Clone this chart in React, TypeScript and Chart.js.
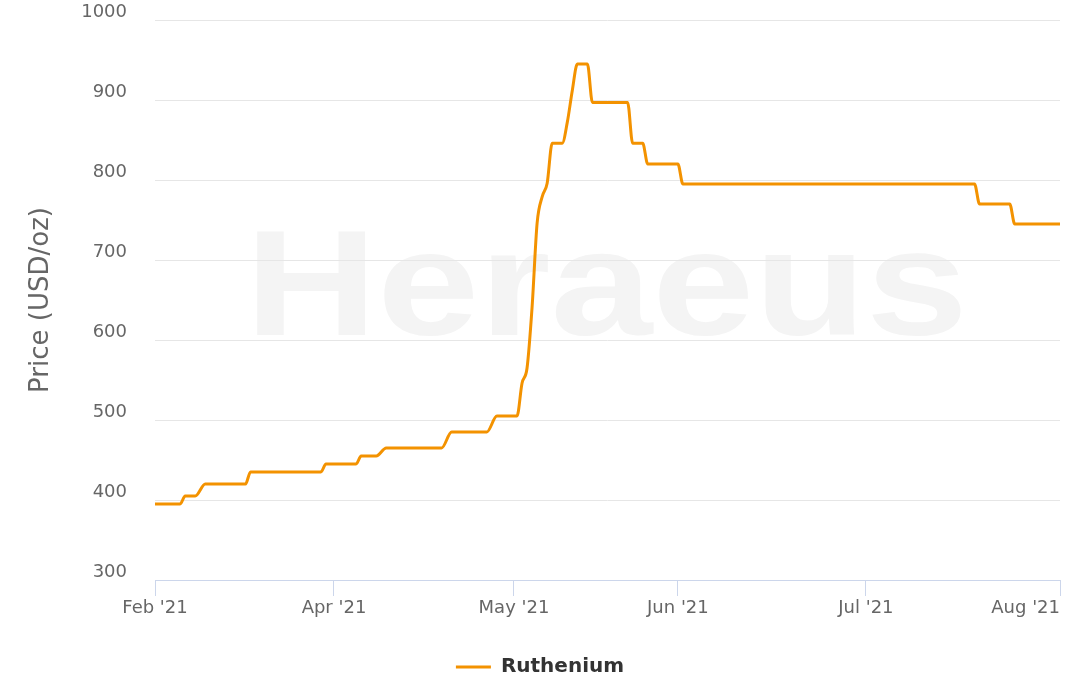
import { useEffect, useRef } from "react";
import { Chart, registerables } from "chart.js";

Chart.register(...registerables);

// Ordinal trading-day index (equal spacing) and Ruthenium price (USD/oz)
const dayIndex = [0, 5, 6, 8, 10, 18, 19, 33, 34, 40, 41, 44, 46, 57, 59, 66, 68, 72, 73, 74, 75, 76, 77, 78, 79, 81, 82, 83, 84, 86, 87, 94, 95, 97, 98, 104, 105, 163, 164, 170, 171, 180];
const prices = [395, 395, 405, 405, 420, 420, 435, 435, 445, 445, 455, 455, 465, 465, 485, 485, 505, 505, 546, 565, 641, 746, 779, 796, 846, 846, 872, 912, 945, 945, 897, 897, 846, 846, 820, 820, 795, 795, 770, 770, 745, 745];

const monthTickIndex = [0, 35.6, 71.4, 104, 141.4, 180];
const monthLabels = ["Feb '21", "Apr '21", "May '21", "Jun '21", "Jul '21", "Aug '21"];

const yMin = 300;
const yMax = 1000;
const yStep = 100;

const seriesName = "Ruthenium";
const yTitle = "Price (USD/oz)";
const watermarkText = "Heraeus";

export default function App() {
  const ref = useRef<HTMLCanvasElement>(null);

  useEffect(() => {
    if (!ref.current) return;
    const font = '"DejaVu Sans", sans-serif';

    const watermark = {
      id: "watermark",
      beforeDraw(chart: any) {
        const ctx = chart.ctx;
        ctx.save();
        ctx.font = 'bold 150px "Liberation Sans", Arial, sans-serif';
        const w = ctx.measureText(watermarkText).width;
        ctx.translate(245, 335);
        ctx.scale(723 / w, 1);
        ctx.fillStyle = "#f4f4f4";
        ctx.textBaseline = "alphabetic";
        ctx.textAlign = "left";
        ctx.fillText(watermarkText, 0, 0);
        ctx.restore();
      },
    };

    const xLabels = {
      id: "xLabels",
      afterDraw(chart: any) {
        const xs = chart.scales.x;
        const ctx = chart.ctx;
        ctx.save();
        ctx.font = `18px ${font}`;
        ctx.fillStyle = "#666666";
        ctx.textBaseline = "alphabetic";
        ctx.textAlign = "center";
        monthTickIndex.forEach((v, i) => {
          const t = monthLabels[i];
          const w = ctx.measureText(t).width;
          let cx = xs.getPixelForValue(v);
          cx = Math.min(cx, chart.chartArea.right - w / 2);
          ctx.fillText(t, cx, xs.top + 33);
        });
        ctx.restore();
      },
    };

    const chart = new Chart(ref.current, {
      type: "line",
      data: {
        datasets: [
          {
            label: seriesName,
            data: dayIndex.map((x, i) => ({ x, y: prices[i] })),
            borderColor: "#f39200",
            backgroundColor: "#f39200",
            borderWidth: 3,
            pointRadius: 0,
            cubicInterpolationMode: "monotone",
            fill: false,
          },
        ],
      },
      options: {
        animation: false,
        responsive: true,
        maintainAspectRatio: false,
        layout: { padding: { top: 20, right: 0, bottom: -6, left: 0 } },
        plugins: {
          tooltip: { enabled: false },
          legend: {
            display: true,
            position: "bottom",
            labels: {
              usePointStyle: true,
              pointStyle: "line",
              pointStyleWidth: 35,
              padding: 1,
              color: "#333333",
              font: { family: font, size: 20, weight: "bold", lineHeight: 1 },
            },
          },
        },
        scales: {
          x: {
            type: "linear",
            min: 0,
            max: 180,
            afterBuildTicks(scale: any) {
              scale.ticks = monthTickIndex.map((v) => ({ value: v }));
            },
            afterFit(scale: any) {
              scale.height = 76;
              scale.paddingLeft = 0;
              scale.paddingRight = 20;
            },
            ticks: { display: false },
            grid: {
              display: true,
              drawOnChartArea: false,
              drawTicks: true,
              tickLength: 16,
              color: "#ccd6eb",
              lineWidth: 1,
            },
            border: { display: true, color: "#ccd6eb", width: 1 },
          },
          y: {
            type: "linear",
            min: yMin,
            max: yMax,
            afterFit(scale: any) {
              scale.width = 155;
              scale.paddingTop = 0;
              scale.paddingBottom = 0;
            },
            ticks: {
              stepSize: yStep,
              padding: 28,
              labelOffset: -8,
              color: "#666666",
              font: { family: font, size: 18 },
              callback: (v: any) => String(v),
            },
            grid: { color: "#e6e6e6", lineWidth: 1, drawTicks: false },
            border: { display: false },
            title: {
              display: true,
              text: yTitle,
              color: "#666666",
              font: { family: font, size: 26 },
              padding: { top: 26, bottom: 0 },
            },
          },
        },
      },
      plugins: [watermark, xLabels],
    });
    return () => chart.destroy();
  }, []);

  return (
    <div style={{ position: "fixed", left: 0, top: 0, width: 1080, height: 681, background: "#ffffff" }}>
      <canvas ref={ref} />
    </div>
  );
}
